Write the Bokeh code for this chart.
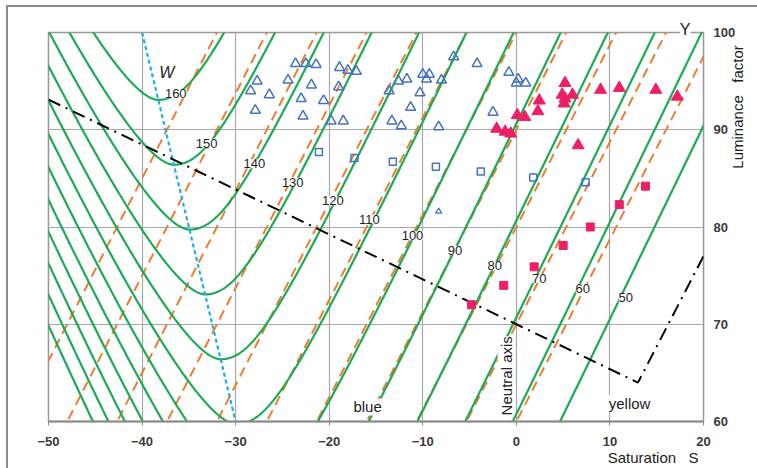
import math
import numpy as np
from bokeh.plotting import figure
from bokeh.models import FixedTicker, Label, Range1d, Title, InlineStyleSheet
from bokeh.embed import file_html
from bokeh.resources import INLINE

# ---------------- data ----------------
x_ticks = [-50, -40, -30, -20, -10, 0, 10, 20]
y_ticks = [60, 70, 80, 90, 100]

# whiteness levels of the green isolines and of the orange (linear) isolines
w_levels = [50, 60, 70, 80, 90, 100, 110, 120, 130, 140, 150, 160]
orange_levels = [60, 70, 80, 90, 100, 110, 120, 130, 140, 150, 160]
orange_slope = 1.875          # dY/dS of the linear isolines (pass through S=0, Y=W)

# green isoline model: W = Y - 2*S_opt(Y) - h(S - S_opt(Y))
opt_a, opt_b = -15.0, -0.25   # S_opt(Y) = opt_a + opt_b*Y  (the dotted W line)
h_min = 9.6                   # whiteness deficit on the W line
h_k, h_p = 0.332, 1.74        # extra penalty beyond the W line (bluer side)

# dotted W line
cyan_S = [-40, -30]
cyan_Y = [100, 60]

# dash-dot limit line
limit_S = [-50, 0, 13, 20]
limit_Y = [93.1, 70, 64, 77]

# samples
blue_tri_S = [-27.7, -28.4, -26.4, -27.9, -23.6, -22.5, -21.4, -24.4, -21.9, -23.0, -20.6, -22.8,
              -18.9, -18.0, -17.1, -19.0, -19.8, -18.5, -13.6, -12.6, -11.7, -10.3, -11.3, -13.3,
              -12.3, -10.0, -9.3, -9.6, -8.0, -8.3, -6.7, -4.2, -0.8, 0.0, 0.2, 1.0, -2.5]
blue_tri_Y = [95.0, 94.0, 93.6, 92.0, 96.8, 96.8, 96.7, 95.1, 94.6, 93.2, 93.0, 91.4,
              96.4, 96.1, 96.0, 94.4, 90.9, 90.9, 94.0, 95.0, 95.2, 93.8, 92.3, 90.9,
              90.4, 95.7, 95.7, 95.2, 95.1, 90.3, 97.5, 96.8, 95.9, 94.8, 95.2, 94.8, 91.8]
blue_small_S = [-8.3]
blue_small_Y = [81.6]
blue_sq_S = [-21.1, -17.3, -13.2, -8.6, -3.8, 1.8, 7.4]
blue_sq_Y = [87.7, 87.1, 86.7, 86.2, 85.7, 85.1, 84.6]
pink_tri_S = [5.2, 9.0, 11.0, 14.9, 17.2, 4.9, 5.2, 6.0, 5.1, 2.45, 2.3, 0.1, 0.9,
              -2.1, -1.2, -0.6, 6.6]
pink_tri_Y = [94.8, 94.1, 94.3, 94.1, 93.4, 93.6, 93.2, 93.6, 92.7, 93.0, 91.9, 91.5, 91.3,
              90.1, 89.8, 89.6, 88.4]
pink_sq_S = [-4.8, -1.35, 1.9, 5.0, 7.9, 11.0, 13.8]
pink_sq_Y = [72.0, 74.0, 75.9, 78.1, 80.0, 82.3, 84.2]

# label anchors of the isoline values
lab_S = [11.7, 7.1, 2.45, -2.3, -6.55, -11.1, -15.7, -19.6, -23.9, -28.0, -33.1, -36.4]
lab_Y = [72.7, 73.7, 74.7, 76.0, 77.6, 79.1, 80.8, 82.7, 84.6, 86.5, 88.6, 93.7]

# ---------------- styles ----------------
GREEN = "#1DAA55"
ORANGE = "#ED7D31"
CYAN = "#1AAEEA"
BLUE = "#4472C4"
PINK = "#EE1F67"
GRID = "#A8A8A8"
FONT = "Liberation Sans"
NB = "\u00a0"

p = figure(width=757, height=468, x_range=Range1d(-50, 20), y_range=Range1d(60, 100),
           y_axis_location="right", output_backend="svg", toolbar_location=None,
           min_border_left=48, min_border_right=52, min_border_top=32, min_border_bottom=47)
p.background_fill_color = "white"
p.border_fill_color = "white"
p.outline_line_color = "#999999"
p.outline_line_width = 1.5
p.stylesheets = [InlineStyleSheet(css=(
    ":host::after { content: ''; position: absolute; left: 6px; top: 5px; right: 0px; "
    "bottom: 0px; border-left: 2px solid #8c8c8c; border-top: 2px solid #8c8c8c; "
    "pointer-events: none; }"))]

p.xgrid.ticker = FixedTicker(ticks=x_ticks)
p.ygrid.ticker = FixedTicker(ticks=y_ticks)
for g in (p.xgrid[0], p.ygrid[0]):
    g.grid_line_color = GRID
    g.grid_line_width = 1.2

xa = p.xaxis[0]
xa.ticker = FixedTicker(ticks=x_ticks)
xa.major_label_text_font = FONT
xa.major_label_text_font_size = "13px"
xa.major_label_text_font_style = "bold"
xa.major_label_text_color = "#3a3a3a"
xa.major_label_standoff = 11
xa.major_tick_out = 4
xa.major_tick_in = 0
xa.major_tick_line_color = "#8a8a8a"
xa.minor_tick_line_color = None
xa.axis_line_color = "#8a8a8a"
xa.axis_line_width = 2
xa.axis_label = NB * 133 + "Saturation" + NB * 3 + "S"
xa.axis_label_text_font = FONT
xa.axis_label_text_font_size = "15px"
xa.axis_label_text_font_style = "normal"
xa.axis_label_text_color = "#222222"
xa.axis_label_standoff = 0
xa.axis_label_align = "center"

ya = p.yaxis[0]
ya.ticker = FixedTicker(ticks=y_ticks)
ya.major_label_text_font = FONT
ya.major_label_text_font_size = "13px"
ya.major_label_text_font_style = "bold"
ya.major_label_text_color = "#3a3a3a"
ya.major_label_standoff = 10
ya.major_tick_out = 0
ya.major_tick_in = 0
ya.minor_tick_line_color = None
ya.axis_line_color = None
ya.axis_label = NB * 14 + "Luminance" + NB * 3 + "factor"
ya.axis_label_text_font = FONT
ya.axis_label_text_font_size = "15px"
ya.axis_label_text_font_style = "normal"
ya.axis_label_text_color = "#222222"
ya.axis_label_standoff = -1
ya.axis_label_align = "center"
try:
    if "axis_label_orientation" in ya.properties():
        ya.axis_label_orientation = math.pi / 2
except Exception:
    pass

p.add_layout(Title(text="Y", align="right", offset=13, standoff=-11,
                   text_font=FONT, text_font_size="16px", text_font_style="normal",
                   text_color="#222222", background_fill_color="white"), "above")

# orange linear isolines
for w in orange_levels:
    ys = [50, 110]
    xs = [(y - w) / orange_slope for y in ys]
    p.line(xs, ys, line_color=ORANGE, line_width=2, line_dash="10 6")

# green isolines
u = np.linspace(-30, 80, 2200)
h = np.sqrt(4 * u ** 2 + h_min ** 2) + np.where(u < 0, h_k * np.abs(u) ** h_p, 0.0)
for w in w_levels:
    Y = (w + 2 * opt_a + h) / (1 - 2 * opt_b)
    S = u + opt_a + opt_b * Y
    p.line(S, Y, line_color=GREEN, line_width=2.2)

p.line(cyan_S, cyan_Y, line_color=CYAN, line_width=2.2, line_dash="4 3")
p.line(limit_S, limit_Y, line_color="black", line_width=2, line_dash="13 6 2 6")

p.scatter(blue_tri_S, blue_tri_Y, marker="triangle", size=10, line_color=BLUE,
          fill_color="white", fill_alpha=0, line_width=1.5)
p.scatter(blue_small_S, blue_small_Y, marker="triangle", size=6, line_color=BLUE,
          fill_alpha=0, line_width=1.2)
p.scatter(blue_sq_S, blue_sq_Y, marker="square", size=7, line_color=BLUE,
          fill_alpha=0, line_width=1.5)
p.scatter(pink_tri_S, pink_tri_Y, marker="triangle", size=12, line_color=PINK,
          fill_color=PINK)
p.scatter(pink_sq_S, pink_sq_Y, marker="square", size=8, line_color=PINK,
          fill_color=PINK)

for w, sx, sy in zip(w_levels, lab_S, lab_Y):
    p.add_layout(Label(x=sx, y=sy, text=str(w), text_font=FONT, text_font_size="13px",
                       text_align="center", text_baseline="middle", text_color="#222222",
                       background_fill_color="white"))

def txt(x, y, t, size="15px", style="normal", angle=0.0, bg=True, align="center"):
    p.add_layout(Label(x=x, y=y, text=t, text_font=FONT, text_font_size=size,
                       text_font_style=style, angle=angle, text_align=align,
                       text_baseline="middle", text_color="#222222",
                       background_fill_color="white" if bg else None))

txt(-15.9, 61.5, "blue")
txt(12.1, 61.85, "yellow")
txt(-1.1, 64.7, "Neutral axis", angle=math.pi / 2)
txt(-37.35, 95.9, "W", size="16px", style="italic", bg=False)

open("out.html", "w").write(file_html(p, INLINE))
